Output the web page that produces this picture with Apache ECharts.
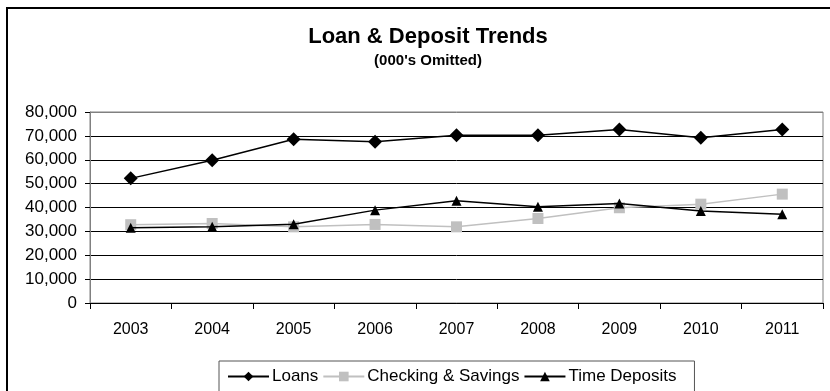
<!DOCTYPE html>
<html>
<head>
<meta charset="utf-8">
<script src="https://cdn.jsdelivr.net/npm/echarts@6/dist/echarts.min.js"></script>
<style>html,body{margin:0;padding:0;background:#fff;}#c{width:830px;height:391px;}</style>
</head>
<body>
<div id="c"></div>
<script>
const years = ['2003','2004','2005','2006','2007','2008','2009','2010','2011'];
const loans = [52200, 59800, 68600, 67500, 70300, 70300, 72700, 69200, 72700];
const checkingSavings = [32800, 33300, 31900, 32900, 31900, 35400, 39900, 41400, 45600];
const timeDeposits = [31500, 31900, 33000, 38900, 42800, 40300, 41700, 38500, 37200];
const seriesNames = ['Loans', 'Checking & Savings', 'Time Deposits'];

const FONT = '"Liberation Sans", Arial, sans-serif';
const chart = echarts.init(document.getElementById('c'), null, {renderer: 'canvas'});
chart.setOption({
  animation: false,
  backgroundColor: '#fff',
  textStyle: {fontFamily: FONT},
  graphic: [{
    type: 'rect', z: -10, silent: true,
    shape: {x: 7, y: 8, width: 1000, height: 600},
    style: {fill: 'none', stroke: '#000', lineWidth: 2}
  }],
  title: {
    text: 'Loan & Deposit Trends',
    subtext: "(000's Omitted)",
    left: 423, top: 21, textAlign: 'center', itemGap: 5,
    textStyle: {fontFamily: FONT, fontSize: 22, fontWeight: 'bold', color: '#000'},
    subtextStyle: {fontFamily: FONT, fontSize: 15, fontWeight: 'bold', color: '#000'}
  },
  grid: {left: 90, right: 7, top: 112, bottom: 88, show: true, borderColor: '#808080', borderWidth: 1, backgroundColor: 'transparent'},
  legend: {
    data: seriesNames,
    left: 219, top: 361,
    padding: [7, 18, 20, 8],
    itemGap: 4, itemWidth: 41, itemHeight: 12,
    borderColor: '#555', borderWidth: 1,
    textStyle: {fontFamily: FONT, fontSize: 17, color: '#000', padding: [0,0,0,-2]}
  },
  xAxis: {
    type: 'category', data: years, boundaryGap: true,
    axisLine: {lineStyle: {color: '#000', width: 1}},
    axisTick: {show: true, length: 6, lineStyle: {color: '#000'}},
    axisLabel: {fontFamily: FONT, fontSize: 16, color: '#000', margin: 19}
  },
  yAxis: {
    type: 'value', min: 0, max: 80000, interval: 10000,
    axisLine: {show: true, lineStyle: {color: '#808080', width: 1}},
    axisTick: {show: true, length: 5, lineStyle: {color: '#000'}},
    axisLabel: {fontFamily: FONT, fontSize: 17, color: '#000', margin: 13,
      formatter: v => v.toLocaleString('en-US')},
    splitLine: {show: true, lineStyle: {color: ['#000','#000','#000','#000','#000','#000','#000','#000','#808080'], width: 1}}
  },
  series: [
    {name: seriesNames[0], type: 'line', data: loans, symbol: 'diamond', symbolSize: 14,
     lineStyle: {color: '#000', width: 1.5}, itemStyle: {color: '#000'}, z: 4},
    {name: seriesNames[1], type: 'line', data: checkingSavings, symbol: 'rect', symbolSize: 11,
     lineStyle: {color: '#c0c0c0', width: 1.5}, itemStyle: {color: '#c0c0c0'}, z: 2},
    {name: seriesNames[2], type: 'line', data: timeDeposits, symbol: 'triangle', symbolSize: 10,
     lineStyle: {color: '#000', width: 1.5}, itemStyle: {color: '#000'}, z: 3}
  ]
});
</script>
</body>
</html>
